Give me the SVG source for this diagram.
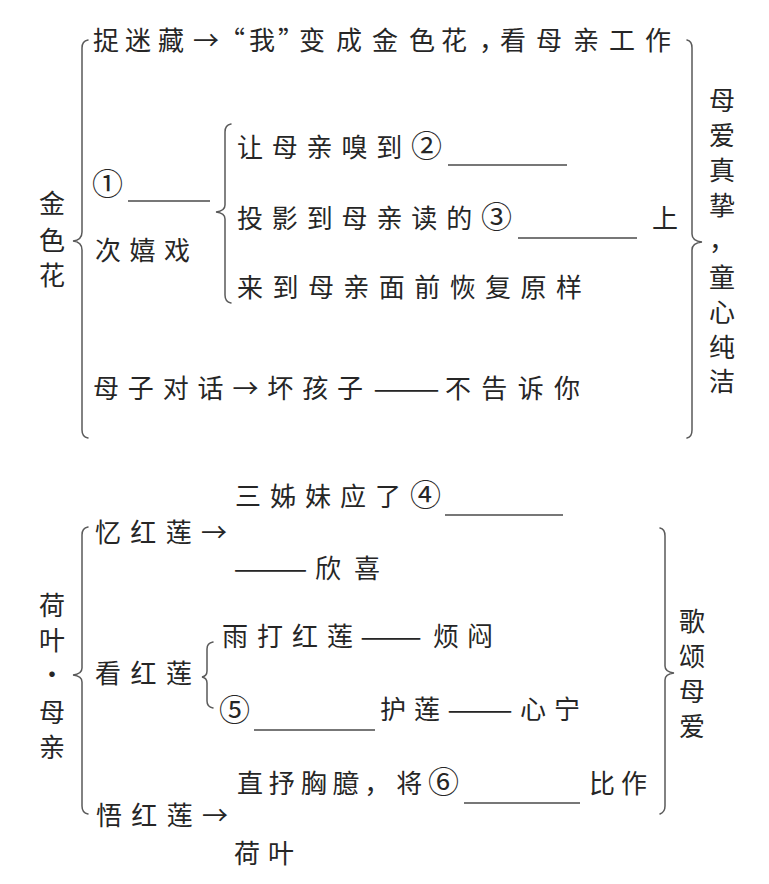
<svg xmlns="http://www.w3.org/2000/svg" width="769" height="884" viewBox="0 0 769 884">
<style>
text{font-family:"Noto Sans CJK SC","Noto Sans CJK JP",sans-serif;font-size:26px;fill:#262626}
.v{text-anchor:middle}
.c{font-size:31px}
.brace{fill:none;stroke:#5a5a5a;stroke-width:1.5;stroke-linecap:round}
.blank{stroke:#4a4a4a;stroke-width:1.4}
</style>
<rect width="769" height="884" fill="#ffffff"/>
<g id="connectors">
<path class="brace" d="M88,40 Q82,41 82,48 L82,232 Q82,240 73,241 Q82,242 82,250 L82,430 Q82,437 88,438"/>
<path class="brace" d="M231,124 Q225,125 225,132 L225,205 Q225,211 216,212 Q225,213 225,219 L225,295 Q225,302 231,303"/>
<path class="brace" d="M687,40 Q692,41 692,48 L692,234 Q692,241 702,242 Q692,243 692,250 L692,430 Q692,437 687,438"/>
<path class="brace" d="M88,527 Q82,528 82,535 L82,668 Q82,674 73,675 Q82,676 82,682 L82,806 Q82,813 88,814"/>
<path class="brace" d="M213,642 Q207,643 207,649 L207,671 Q207,676 202,677 Q207,678 207,683 L207,701 Q207,707 213,708"/>
<path class="brace" d="M660,528 Q665,529 665,536 L665,666 Q665,672 674,673 Q665,674 665,680 L665,806 Q665,812 660,814"/>
</g>
<g id="jinsehua-title">
<text class="v" x="52" y="213">金</text>
<text class="v" x="52" y="250">色</text>
<text class="v" x="52" y="285">花</text>
</g>
<g id="zhuomicang">
<text x="93 125 158 193 219 249 278 299 336 372 409 441 479 500 536 573 609 645" y="50">捉迷藏→“我”变成金色花，看母亲工作</text>
</g>
<g id="xixi">
<text x="92" y="195" class="c">①</text>
<line class="blank" x1="128" y1="201" x2="210" y2="201"/>
<text x="95" y="260" textLength="95" lengthAdjust="spacing">次嬉戏</text>
</g>
<g id="xiu">
<text x="237" y="157" textLength="205" lengthAdjust="spacing">让母亲嗅到<tspan class="c">②</tspan></text>
<line class="blank" x1="448" y1="165" x2="567" y2="165"/>
</g>
<g id="touying">
<text x="237" y="228" textLength="275" lengthAdjust="spacing">投影到母亲读的<tspan class="c">③</tspan></text>
<line class="blank" x1="518" y1="238" x2="637" y2="238"/>
<text x="652" y="228">上</text>
</g>
<g id="huifu">
<text x="237" y="297" textLength="345" lengthAdjust="spacing">来到母亲面前恢复原样</text>
</g>
<g id="duihua">
<text x="93" y="398" textLength="270" lengthAdjust="spacing">母子对话→坏孩子</text>
<text x="373" y="398" textLength="67" lengthAdjust="spacingAndGlyphs">——</text>
<text x="445" y="398" textLength="135" lengthAdjust="spacing">不告诉你</text>
</g>
<g id="theme1">
<text class="v" x="722" y="110">母</text>
<text class="v" x="722" y="145">爱</text>
<text class="v" x="722" y="180">真</text>
<text class="v" x="722" y="215">挚</text>
<text x="709" y="250">，</text>
<text class="v" x="722" y="287">童</text>
<text class="v" x="722" y="322">心</text>
<text class="v" x="722" y="357">纯</text>
<text class="v" x="722" y="391">洁</text>
</g>
<g id="heye-title">
<text class="v" x="52" y="615">荷</text>
<text class="v" x="52" y="650">叶</text>
<text class="v" x="52" y="684">·</text>
<text class="v" x="52" y="722">母</text>
<text class="v" x="52" y="757">亲</text>
</g>
<g id="yihonglian">
<text x="95" y="542" textLength="132" lengthAdjust="spacing">忆红莲→</text>
<text x="235" y="506" textLength="206" lengthAdjust="spacing">三姊妹应了<tspan class="c">④</tspan></text>
<line class="blank" x1="445" y1="515" x2="563" y2="515"/>
<text x="233" y="578" textLength="75" lengthAdjust="spacingAndGlyphs">——</text>
<text x="315" y="578" textLength="65" lengthAdjust="spacing">欣喜</text>
</g>
<g id="kanhonglian">
<text x="95" y="683" textLength="97" lengthAdjust="spacing">看红莲</text>
</g>
<g id="yuda">
<text x="222" y="646" textLength="131" lengthAdjust="spacing">雨打红莲</text>
<text x="360" y="646" textLength="62" lengthAdjust="spacingAndGlyphs">——</text>
<text x="433" y="646" textLength="60" lengthAdjust="spacing">烦闷</text>
</g>
<g id="hulian">
<text x="219" y="721" class="c">⑤</text>
<line class="blank" x1="254" y1="730" x2="375" y2="730"/>
<text x="380" y="719" textLength="60" lengthAdjust="spacing">护莲</text>
<text x="447" y="719" textLength="66" lengthAdjust="spacingAndGlyphs">——</text>
<text x="520" y="719" textLength="60" lengthAdjust="spacing">心宁</text>
</g>
<g id="wuhonglian">
<text x="96" y="825" textLength="132" lengthAdjust="spacing">悟红莲→</text>
<text x="237" y="793" textLength="222" lengthAdjust="spacing">直抒胸臆，将<tspan class="c">⑥</tspan></text>
<line class="blank" x1="464" y1="803" x2="580" y2="803"/>
<text x="589" y="793" textLength="58" lengthAdjust="spacing">比作</text>
<text x="234" y="863" textLength="60" lengthAdjust="spacing">荷叶</text>
</g>
<g id="theme2">
<text class="v" x="692" y="631">歌</text>
<text class="v" x="692" y="666">颂</text>
<text class="v" x="692" y="701">母</text>
<text class="v" x="692" y="736">爱</text>
</g>
</svg>
